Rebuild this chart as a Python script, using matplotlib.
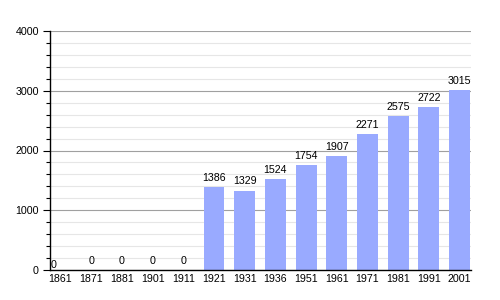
import matplotlib
matplotlib.use("Agg")
import matplotlib.pyplot as plt
from matplotlib.ticker import MultipleLocator

years = ["1861", "1871", "1881", "1901", "1911", "1921", "1931", "1936",
         "1951", "1961", "1971", "1981", "1991", "2001"]
population = [0, 0, 0, 0, 0, 1386, 1329, 1524, 1754, 1907, 2271, 2575, 2722, 3015]

plt.rcParams['font.family'] = ['Liberation Sans', 'DejaVu Sans']

fig = plt.figure(figsize=(5, 3), dpi=100)
ax = fig.add_axes([50/500, 30/300, 421/500, 239/300])

x = list(range(len(years)))
ax.bar(x, population, width=0.68, color="#99aaff", zorder=3)

ax.set_xlim(-0.34, len(years) - 1 + 0.37)
ax.set_ylim(0, 4000)
ax.yaxis.set_major_locator(MultipleLocator(1000))
ax.yaxis.set_minor_locator(MultipleLocator(200))
ax.grid(axis="y", which="major", color="#a0a0a0", linewidth=0.8, zorder=1)
ax.grid(axis="y", which="minor", color="#e6e6e6", linewidth=0.8, zorder=0)

ax.set_xticks(x)
ax.set_xticklabels(years)
ax.tick_params(axis="x", length=0, labelsize=7.7, pad=3)
ax.tick_params(axis="y", which="major", length=5, width=0.8, labelsize=7.7, pad=3)
ax.tick_params(axis="y", which="minor", length=3, width=0.8)

for s in ["top", "right"]:
    ax.spines[s].set_visible(False)
for s in ["left", "bottom"]:
    ax.spines[s].set_color("black")
    ax.spines[s].set_linewidth(1.0)
    ax.spines[s].set_zorder(4)

for i, v in enumerate(population):
    if i == 0:
        xi, dy = i - 0.23, 0
    else:
        xi, dy = i, 3
    ax.annotate(str(v), (xi, v), xytext=(0, dy), textcoords="offset points",
                ha="center", va="bottom", fontsize=7.7, zorder=5)

fig.savefig("out.png", dpi=100)
